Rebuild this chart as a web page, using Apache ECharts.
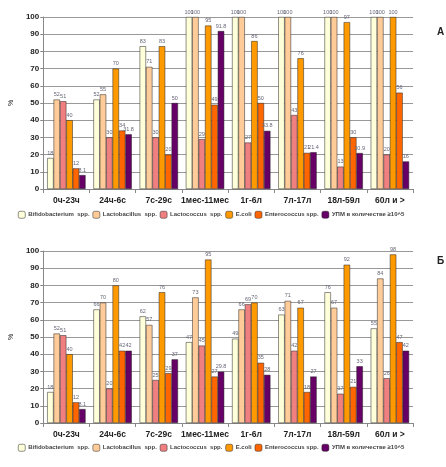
<!DOCTYPE html>
<html><head><meta charset="utf-8">
<script src="https://cdn.jsdelivr.net/npm/echarts@6/dist/echarts.min.js"></script>
<style>html,body{margin:0;padding:0;background:#fff}#c{width:446px;height:467px}</style>
</head><body><div id="c"></div>
<script>
const categories = ['0ч-23ч','24ч-6с','7с-29с','1мес-11мес','1г-6л','7л-17л','18л-59л','60л и >'];
const seriesNames = ['Bifidobacterium  spp.','Lactobacillus  spp.','Lactococcus  spp.','E.coli','Enterococcus spp.','УПМ в количестве ≥10^5'];
const colors = ['#FFFFD9','#FFCC99','#F08080','#FF9900','#FF6600','#660066'];
const yTicks = [0,10,20,30,40,50,60,70,80,90,100];

// Chart A
const aBifido = [18,52,83,100,100,100,100,100];
const aLacto = [52,55,71,100,100,100,100,100];
const aLactococcus = [51,30,30,29,27,43,13,20];
const aEcoli = [40,70,83,95,86,76,97,100];
const aEntero = [12,34,20,49,50,21,30,56];
const aUPM = [8.1,31.8,50,91.8,33.8,21.4,20.9,16];

// Chart Б
const bBifido = [18,66,62,47,49,63,76,55];
const bLacto = [52,70,57,73,66,71,67,84];
const bLactococcus = [51,20,25,45,69,42,17,26];
const bEcoli = [40,80,76,95,70,67,92,98];
const bEntero = [12,42,29,27,35,18,21,47];
const bUPM = [8.1,42,37,29.8,28,27,33,42];

const dataA = [aBifido,aLacto,aLactococcus,aEcoli,aEntero,aUPM];
const dataB = [bBifido,bLacto,bLactococcus,bEcoli,bEntero,bUPM];

const font = 'Liberation Sans, Arial, sans-serif';
function xAx(i){return {type:'category',gridIndex:i,data:categories,
  axisLine:{lineStyle:{color:'#888'}},axisTick:{show:true,length:4,lineStyle:{color:'#888'}},
  axisLabel:{fontSize:8.5,fontWeight:'bold',color:'#222',fontFamily:font,margin:7,interval:0}};}
function yAx(i){return {type:'value',gridIndex:i,min:0,max:100,interval:10,
  name:'%',nameLocation:'middle',nameGap:21,nameRotate:90,nameTextStyle:{fontSize:7,color:'#222',fontFamily:font},
  axisLine:{show:true,lineStyle:{color:'#888'}},axisTick:{show:true,length:3,lineStyle:{color:'#888'}},
  splitLine:{lineStyle:{color:'#999',width:1}},
  axisLabel:{fontSize:8,fontWeight:'bold',color:'#222',fontFamily:font,margin:4}};}
const series=[];
[dataA,dataB].forEach((d,gi)=>{
  d.forEach((vals,si)=>{
    series.push({name:seriesNames[si],type:'bar',xAxisIndex:gi,yAxisIndex:gi,data:vals,
      barGap:'0%',barCategoryGap:'17%',
      itemStyle:{color:colors[si],borderColor:'#222',borderWidth:0.5},
      label:{show:true,position:'top',distance:2,fontSize:5.5,color:'#667',fontFamily:font},
      emphasis:{disabled:true}});
  });
});
function legend(top){return {top:top,left:13,itemWidth:7,itemHeight:7,itemGap:3,
  data:seriesNames,textStyle:{fontSize:6,fontWeight:'bold',color:'#444',fontFamily:font,padding:[0,0,0,-2]},
  itemStyle:{borderColor:'#222',borderWidth:0.5},selectedMode:false};}
const chart=echarts.init(document.getElementById('c'),null,{renderer:'canvas'});
chart.setOption({
  animation:false,
  backgroundColor:'#fff',
  title:[{text:'А',left:432,top:22,textStyle:{fontSize:10,fontWeight:'bold',color:'#222',fontFamily:font}},
         {text:'Б',left:432,top:251,textStyle:{fontSize:10,fontWeight:'bold',color:'#222',fontFamily:font}}],
  legend:[legend(206),legend(439)],
  grid:[{left:23,top:17,width:390,height:172},{left:22,top:251,width:391,height:172}],
  xAxis:[xAx(0),xAx(1)],
  yAxis:[yAx(0),yAx(1)],
  series:series
});
</script></body></html>
